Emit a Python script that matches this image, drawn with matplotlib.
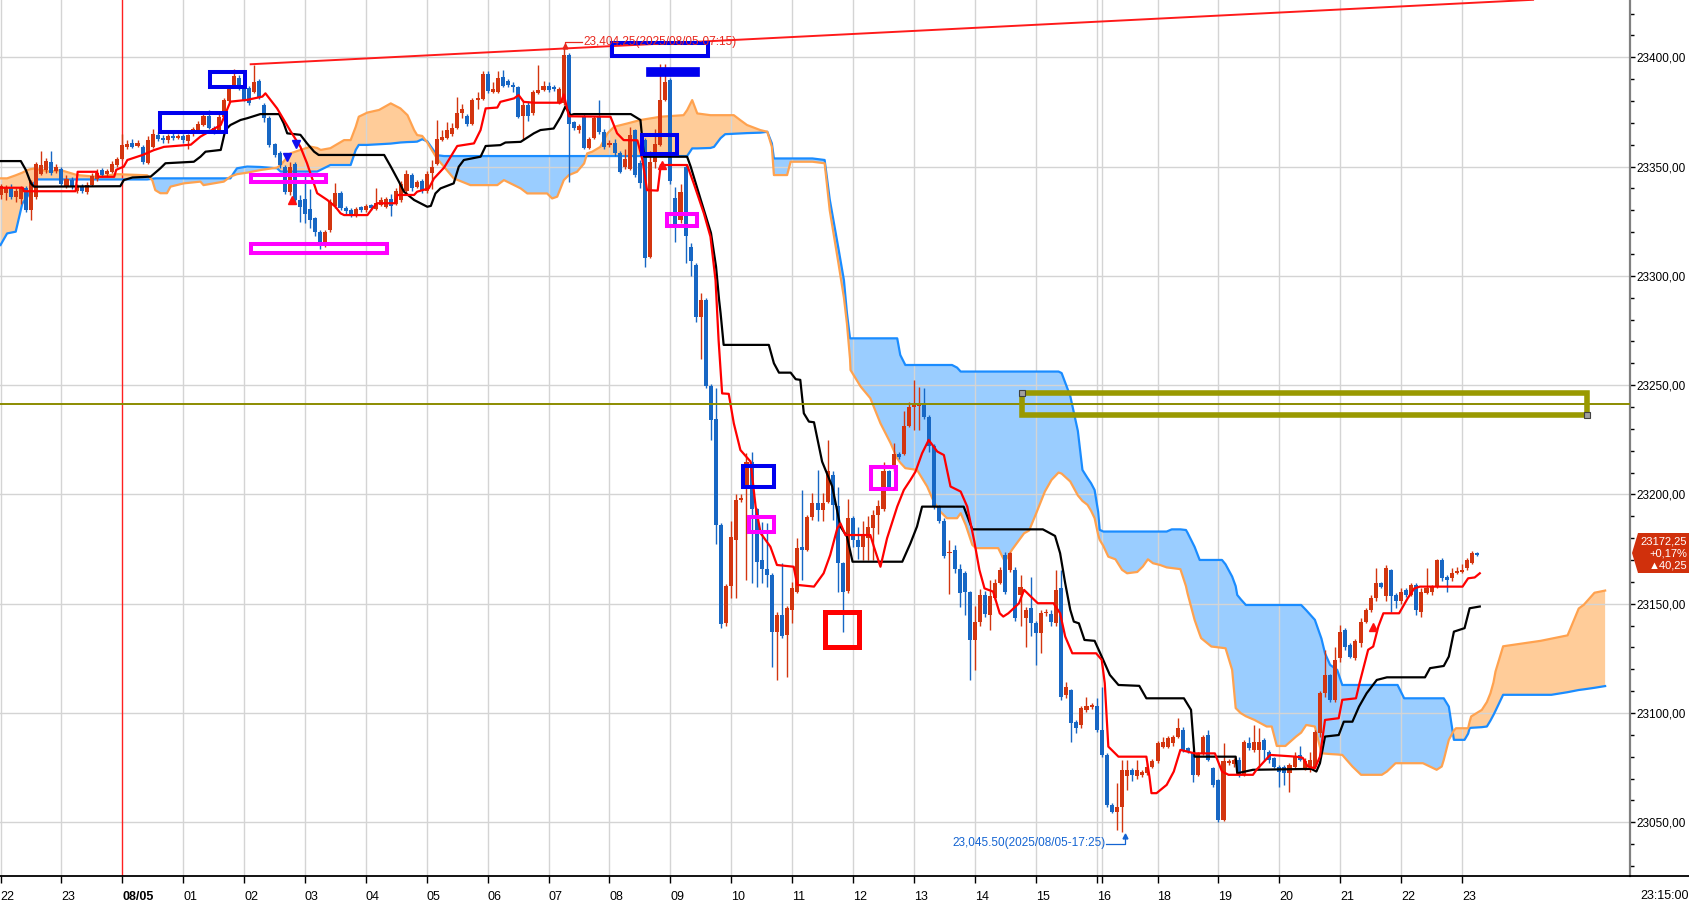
import matplotlib
matplotlib.use("Agg")
import matplotlib.pyplot as plt
import numpy as np
from matplotlib.patches import Rectangle, Polygon
from matplotlib.ticker import FuncFormatter, MultipleLocator
from matplotlib.lines import Line2D

plt.rcParams['font.family'] = ['Liberation Sans', 'DejaVu Sans']

# ---------------- 5-minute candles (bar index 0 = 22:00) ----------------
opens = [
 23337, 23338, 23340, 23336, 23335, 23340, 23330, 23336, 23346.5, 23348.5, 23352, 23348,
 23349, 23341, 23344, 23339, 23341, 23338.5, 23341.5, 23344.5, 23348.5, 23346.5, 23347.5, 23350.5,
 23353.5, 23359, 23361, 23359.5, 23359, 23351.5, 23359, 23364.5, 23363, 23362, 23364, 23363,
 23364, 23361.5, 23365, 23366.5, 23369, 23373, 23367.5, 23366.5, 23372.5, 23380, 23387.5, 23390.5,
 23386.5, 23386, 23384, 23389, 23378, 23372, 23360.5, 23356, 23350, 23338.5, 23351, 23334.5,
 23335, 23330.5, 23326.5, 23320, 23315.5, 23321, 23332, 23338, 23331, 23330, 23328, 23331.5,
 23330, 23332.5, 23330.5, 23332.5, 23331.5, 23335, 23333, 23334.5, 23339, 23346, 23340.5, 23343.5,
 23339, 23347, 23351, 23362, 23363, 23365, 23367.5, 23374.5, 23373, 23369.5, 23380.5, 23381,
 23392.5, 23384, 23384, 23391, 23389, 23387, 23386.5, 23373, 23378, 23374.5, 23383.5, 23385,
 23387, 23386.5, 23379.5, 23379, 23401, 23370.5, 23366.5, 23372.5, 23358.5, 23363, 23372.5, 23366,
 23360, 23361, 23356, 23350, 23349, 23366.5, 23351.5, 23362, 23308.5, 23352, 23360, 23380.5,
 23389.5, 23335.5, 23325.5, 23350, 23313, 23305, 23281, 23289, 23249.5, 23234.5, 23186, 23141,
 23158, 23179, 23197.5, 23203, 23215, 23193.5, 23170, 23166, 23163, 23137, 23145, 23135.5,
 23147, 23155.5, 23176, 23174.5, 23189.5, 23196, 23193, 23196.5, 23209, 23194.5, 23168.5, 23156,
 23189, 23179, 23176, 23180, 23184.5, 23190.5, 23193.5, 23210.5, 23213.5, 23218.5, 23218.5, 23231.5,
 23240, 23240.5, 23241, 23235.5, 23222, 23194.5, 23188, 23173, 23174.5, 23166, 23164, 23155.5,
 23133.5, 23141.5, 23154, 23145, 23152.5, 23159.5, 23172.3, 23165.5, 23165.5, 23153.8, 23143.3, 23147.9,
 23141, 23136.5, 23145.6, 23145.3, 23141, 23157, 23108, 23110.5, 23096, 23094.5, 23101.5, 23102.5,
 23103, 23092.3, 23080.8, 23058, 23054.5, 23057, 23071, 23074, 23071, 23071.7, 23072.5, 23075.5,
 23077.8, 23084.6, 23084.6, 23086.1, 23089.2, 23092.3, 23083.8, 23082.3, 23071.6, 23081.5, 23089.9, 23074.7,
 23069.4, 23051, 23077.1, 23076.5, 23078.5, 23071.7, 23086.1, 23083.1, 23083.1, 23087.7, 23082.3, 23079.3,
 23075.5, 23075.5, 23072.4, 23075.5, 23080.8, 23074.7, 23075.5, 23075.5, 23090.8, 23109, 23117.4, 23106,
 23125, 23138, 23131.1, 23125, 23131.9, 23141.8, 23147.2, 23152.5, 23159.4, 23153.3, 23165.4, 23154,
 23151, 23156.3, 23154, 23158.6, 23146.4, 23155, 23155.5, 23157.8, 23170, 23162.4, 23161.6, 23164.2,
 23164.5, 23166.2, 23168.5, 23173]
highs = [
 23342, 23341.5, 23342, 23340, 23341, 23341, 23344, 23352, 23357, 23354, 23357, 23351,
 23350, 23346, 23345, 23342, 23342, 23343, 23347, 23349, 23349.5, 23349, 23352.5, 23354.5,
 23365, 23362, 23362.5, 23362, 23360, 23364, 23367, 23366, 23364.5, 23365, 23365.5, 23365,
 23365, 23365, 23368, 23371, 23374, 23376, 23368.5, 23374, 23381.5, 23387, 23394.5, 23392,
 23387.5, 23387, 23396.5, 23390, 23379, 23373, 23361, 23357, 23350.5, 23352, 23352, 23337,
 23345.5, 23339.5, 23327, 23321, 23321, 23335, 23342.5, 23339, 23332, 23331, 23331.5, 23332,
 23333, 23333, 23340, 23336, 23336, 23337.5, 23340, 23343.5, 23348.5, 23347, 23344, 23344.5,
 23348, 23353, 23371.3, 23366.5, 23370.5, 23370, 23382, 23378.5, 23374, 23381.5, 23384, 23393.5,
 23393.5, 23388.5, 23393.5, 23394, 23390, 23388.5, 23387, 23380, 23380, 23385, 23396.5, 23389,
 23388.5, 23387.5, 23386.5, 23404.25, 23402, 23371, 23369.5, 23374, 23363.5, 23373, 23380.5, 23367,
 23362, 23362.5, 23357, 23358, 23368, 23367, 23353, 23363, 23357, 23367, 23397, 23397,
 23390.5, 23340.5, 23342, 23351, 23315, 23306, 23292, 23290, 23250.5, 23248.5, 23187, 23159,
 23188, 23200, 23200, 23219, 23219.5, 23194, 23187.5, 23187, 23164, 23146, 23168.5, 23149,
 23160, 23180, 23202, 23190.5, 23200.5, 23211, 23200.5, 23225, 23210.5, 23203.5, 23169, 23198,
 23190, 23185, 23188, 23190, 23193, 23197.5, 23215, 23211, 23223.5, 23219.5, 23238, 23242.5,
 23252.5, 23249, 23248.5, 23236.5, 23223, 23195, 23189, 23179, 23177, 23168, 23165, 23156,
 23149, 23156.5, 23156, 23161, 23161.5, 23167, 23173.8, 23173.8, 23167, 23163, 23148.5, 23162.4,
 23142, 23147.2, 23147.5, 23147, 23165.5, 23165.5, 23114, 23111, 23097, 23103, 23107.5, 23104.5,
 23106.7, 23112, 23081.5, 23059, 23067.8, 23078.5, 23078.5, 23075, 23078.5, 23074, 23077, 23079,
 23087, 23089.2, 23089.5, 23090, 23097.6, 23093.5, 23084.5, 23083, 23082.3, 23090, 23092.3, 23075.5,
 23070, 23086.1, 23079, 23079.5, 23080, 23087.7, 23089.2, 23094.5, 23093, 23088.4, 23083, 23080,
 23076, 23076.3, 23077, 23082, 23085, 23079.3, 23082, 23092.3, 23110, 23128.9, 23118, 23130,
 23140.3, 23138.8, 23132, 23134, 23143.3, 23148, 23154, 23166.2, 23160, 23167.7, 23166, 23155,
 23157, 23157, 23159.5, 23159.5, 23157, 23166.2, 23158.5, 23170.5, 23171, 23163, 23166.2, 23167,
 23168, 23171, 23174, 23173.5]
lows = [
 23335, 23334.5, 23335, 23334, 23333, 23329, 23325.5, 23335, 23346, 23347, 23346, 23347,
 23341, 23340, 23339.5, 23338, 23338, 23337.5, 23341, 23343.5, 23345, 23345.5, 23347, 23350,
 23353, 23358, 23358.5, 23359, 23351, 23351, 23358.5, 23361.5, 23361, 23361, 23362, 23362.5,
 23361, 23358, 23364, 23366, 23368.5, 23367, 23365, 23366, 23372, 23379.5, 23387, 23385,
 23380, 23378, 23383.5, 23381, 23370.5, 23359, 23354.5, 23349.5, 23337.5, 23337, 23333, 23324.5,
 23324, 23322, 23318, 23312.5, 23313, 23320, 23331, 23330, 23328.5, 23327, 23327, 23329,
 23329, 23330, 23330, 23332, 23331, 23327.5, 23332.5, 23334, 23338, 23339, 23340, 23338,
 23338, 23339.5, 23350.5, 23361.5, 23362.5, 23364, 23367, 23372, 23368.5, 23369, 23376.5, 23380.5,
 23383.5, 23383.5, 23383.5, 23386.5, 23386.5, 23384, 23372, 23362, 23371, 23373.5, 23383, 23384.5,
 23384, 23384.5, 23378.5, 23378, 23343, 23366.5, 23365.5, 23358, 23358, 23362.5, 23365, 23358,
 23359, 23355, 23347, 23349, 23348.5, 23345, 23340, 23304, 23308, 23349.5, 23359.5, 23380,
 23342, 23315.5, 23324, 23306, 23300, 23279, 23262, 23248.5, 23225, 23177.5, 23139, 23140,
 23152.5, 23152.5, 23196.5, 23161, 23159.5, 23157.5, 23159.5, 23157.5, 23121, 23115, 23134.5, 23116.5,
 23141, 23155, 23161, 23174, 23188.5, 23188, 23188, 23196, 23188.5, 23155.5, 23137.2, 23155,
 23176, 23170.5, 23170, 23170, 23170, 23182, 23192.5, 23202.5, 23210.5, 23216, 23218, 23231,
 23229.5, 23229.5, 23234.5, 23219.5, 23193.5, 23187, 23171, 23154.5, 23164, 23148.5, 23145, 23115,
 23119.7, 23140, 23144, 23138, 23151.5, 23159, 23154.5, 23164.5, 23142, 23140, 23130.4, 23135,
 23122, 23127.3, 23144.5, 23140, 23140, 23106, 23107, 23086.9, 23091, 23093, 23100.5, 23102,
 23091.5, 23080, 23057, 23054, 23046.5, 23045.5, 23064.8, 23069, 23070, 23070.5, 23071.5, 23075,
 23077, 23083.8, 23083.8, 23085, 23088.4, 23082, 23081.5, 23068.6, 23071, 23080.8, 23077.8, 23066.3,
 23050.2, 23050.5, 23076.3, 23075.5, 23070.9, 23071, 23083, 23082.3, 23075, 23078, 23077, 23074.7,
 23066, 23067, 23064, 23074.7, 23077.8, 23074, 23073.2, 23075, 23089, 23107.5, 23105, 23105,
 23123.5, 23129, 23125, 23124, 23130, 23141, 23146.4, 23151, 23157, 23151, 23146, 23148,
 23150, 23153, 23153.5, 23145, 23144, 23154.5, 23154, 23157, 23160.5, 23155.5, 23160.5, 23163.5,
 23164, 23165.5, 23168, 23172]
closes = [
 23341, 23340.5, 23336, 23339, 23340, 23330, 23343, 23351, 23350.5, 23352.5, 23347, 23350,
 23342, 23344.5, 23340.5, 23341, 23339, 23341.5, 23345.5, 23347, 23346, 23348, 23351, 23353.5,
 23360, 23360.5, 23359, 23361, 23352, 23362, 23365, 23362.5, 23362, 23364, 23363, 23364,
 23362, 23364.5, 23367, 23369.5, 23373, 23367.5, 23366.5, 23372.5, 23380.5, 23386, 23391.5, 23386,
 23380.5, 23379, 23388.5, 23382, 23372, 23360, 23355.5, 23350.5, 23338.5, 23350, 23334.5, 23331.5,
 23328.5, 23325.5, 23320, 23315.5, 23320, 23334, 23338, 23331, 23329.5, 23328, 23330.5, 23330,
 23332, 23331, 23333.5, 23334.5, 23335, 23332, 23339, 23342, 23346.5, 23340, 23343, 23339,
 23346.5, 23350, 23362.5, 23363.5, 23366.5, 23367.5, 23374.5, 23376.5, 23369.5, 23380.5, 23381.5, 23392.5,
 23384.5, 23385.5, 23390.5, 23387, 23387.5, 23386.5, 23372.5, 23378, 23373, 23384, 23385, 23387,
 23385, 23385.5, 23385.5, 23401, 23369.5, 23367.5, 23368.5, 23358.5, 23362.5, 23372, 23366, 23359,
 23361, 23356, 23347.5, 23353.5, 23364.5, 23346, 23342.5, 23308, 23352, 23360.5, 23380.5, 23388.5,
 23343.5, 23322.5, 23338.5, 23318, 23307, 23281, 23289, 23249.5, 23234, 23186, 23140.5, 23158,
 23180.5, 23197.5, 23198.5, 23215, 23193.5, 23169, 23166, 23163, 23137, 23145, 23135, 23148,
 23157, 23175.5, 23174.5, 23189.5, 23196, 23193, 23196, 23210.5, 23195, 23168.5, 23155.5, 23189,
 23179, 23176, 23181.5, 23185, 23190.5, 23194.5, 23210.5, 23203.5, 23218.5, 23217, 23231.5, 23240,
 23240.5, 23241, 23235.5, 23222, 23194.5, 23188, 23172, 23173.5, 23166, 23155, 23155.5, 23133.5,
 23141.5, 23154, 23145.5, 23153.5, 23159.5, 23165.5, 23155.5, 23173, 23143.3, 23157.8, 23147, 23141,
 23136.5, 23145.6, 23146.4, 23141.8, 23156.3, 23107.5, 23112, 23095.3, 23093, 23102.2, 23103, 23103.5,
 23092.3, 23080.8, 23058, 23054.9, 23057, 23074, 23074, 23071.7, 23074, 23073.2, 23075.5, 23077.8,
 23086.1, 23086.9, 23088.4, 23089.2, 23093, 23083.1, 23082.3, 23071.7, 23081.5, 23089.2, 23078.5, 23067.1,
 23051, 23077.8, 23077.8, 23078.5, 23071.7, 23086.9, 23083.8, 23086.9, 23086.9, 23083.1, 23078.5, 23075.5,
 23073.2, 23072.4, 23076.2, 23080, 23078.5, 23077.8, 23078.5, 23091.5, 23109, 23117.4, 23106, 23124.3,
 23137.2, 23130.4, 23125.8, 23132.7, 23141.8, 23147.2, 23152.5, 23159.4, 23157.8, 23166.2, 23153.3, 23151,
 23155.5, 23154, 23158.6, 23147.2, 23155.5, 23157, 23157.8, 23170, 23161.6, 23160.9, 23163.9, 23165,
 23165.2, 23170, 23173, 23172.25]

# ---------------- Ichimoku lines ----------------
tenkan_x = [0, 4.4, 4.6, 14.8, 15.2, 19.0, 19.3, 22.4, 22.8, 24.3,
            25.0, 28.0, 30.2, 32.2, 37.5, 39.4, 43.4, 45.3, 48.6, 51.6,
            52.2, 54.5, 57.2, 59.1, 60.4, 61.4, 62.4, 64.4, 66.0, 67.0,
            67.7, 72.3, 73.3, 74.2, 77.8, 78.2, 81.5, 82.1, 84.4, 85.4,
            87.4, 90.0, 93.3, 94.6, 95.6, 97.9, 98.5, 101.2, 102.1, 103.1,
            105.1, 110.4, 111.0, 112.0, 120.2, 121.5, 122.8, 125.5, 126.5, 127.4,
            129.5, 130.1, 135.3, 136.6, 138.6, 139.9, 140.9, 141.5, 142.2, 143.5,
            144.5, 145.8, 147.8, 148.8, 149.8, 151.7, 153.0, 156.3, 157.0, 160.3,
            162.2, 163.5, 164.9, 165.5, 166.5, 171.4, 172.1, 173.4, 174.7, 176.7,
            178.0, 179.3, 180.3, 181.6, 182.9, 184.6, 185.9, 187.2, 189.2, 190.5,
            191.9, 192.9, 193.9, 195.6, 196.9, 197.6, 198.6, 200.7, 201.7, 202.7,
            204.4, 207.5, 208.8, 209.8, 211.2, 215.9, 217.0, 217.6, 218.3, 220.3,
            225.8, 226.4, 226.8, 227.8, 229.8, 231.2, 232.5, 235.3, 239.3, 240.7,
            242.0, 246.8, 247.5, 250.2, 255.3, 256.6, 257.6, 259.0, 260.0, 261.0,
            263.7, 264.4, 267.1, 267.8, 269.5, 270.5, 271.5, 272.5, 275.6, 277.3,
            278.6, 279.7, 288.1, 289.2, 290.5, 291.5]
tenkan_y = [23340.3, 23340.3, 23338.7, 23338.7, 23347.6, 23347.6, 23345.3, 23345.3, 23348.5, 23350.0,
            23353.0, 23355.3, 23357.5, 23359.0, 23360.0, 23363.7, 23369.0, 23379.7, 23380.5, 23382.0,
            23383.5, 23376.6, 23366.0, 23359.0, 23351.5, 23344.6, 23337.8, 23334.7, 23331.6, 23328.6,
            23327.8, 23327.8, 23330.9, 23333.2, 23333.2, 23337.0, 23337.0, 23338.5, 23340.0, 23344.5,
            23349.5, 23359.4, 23360.6, 23366.7, 23376.6, 23377.0, 23379.6, 23381.2, 23382.7, 23379.6,
            23379.2, 23379.2, 23383.0, 23373.0, 23372.8, 23365.2, 23362.1, 23362.0, 23353.0, 23339.2,
            23339.0, 23350.7, 23350.7, 23342.3, 23328.6, 23317.9, 23298.0, 23270.6, 23246.2, 23246.0,
            23232.5, 23220.3, 23215.0, 23194.4, 23182.2, 23176.1, 23167.7, 23166.9, 23158.6, 23157.8,
            23163.9, 23172.3, 23184.5, 23186.8, 23181.4, 23181.4, 23176.1, 23166.9, 23179.9, 23194.4,
            23202.0, 23206.6, 23210.4, 23218.8, 23224.9, 23219.6, 23218.0, 23203.6, 23201.3, 23194.4,
            23178.4, 23165.4, 23157.0, 23155.5, 23145.6, 23144.1, 23145.6, 23150.2, 23156.3, 23154.0,
            23150.2, 23150.2, 23145.6, 23135.0, 23127.3, 23127.3, 23124.3, 23113.6, 23084.6, 23080.0,
            23080.0, 23070.9, 23063.3, 23063.3, 23067.1, 23073.2, 23083.1, 23081.5, 23081.5, 23073.2,
            23071.7, 23071.7, 23074.0, 23080.8, 23080.0, 23079.5, 23075.5, 23074.7, 23080.0, 23096.8,
            23097.6, 23106.0, 23106.7, 23113.6, 23128.9, 23130.4, 23139.5, 23145.6, 23145.6, 23152.5,
            23157.0, 23157.8, 23157.8, 23161.6, 23162.0, 23163.9]

kijun_x = [0, 4.0, 5.0, 6.0, 6.6, 23.6, 24.3, 26.0, 28.0, 29.6,
           31.5, 32.5, 38.1, 39.4, 40.4, 43.4, 44.3, 45.3, 47.3, 48.6,
           51.2, 54.9, 55.8, 56.5, 59.1, 60.4, 61.8, 62.7, 75.6, 76.9,
           78.5, 79.5, 81.5, 84.1, 84.8, 85.7, 86.7, 89.3, 90.3, 91.3,
           94.6, 95.6, 98.5, 99.5, 102.5, 105.1, 106.4, 109.0, 110.4, 111.3,
           112.3, 113.0, 124.2, 126.1, 126.8, 135.3, 136.0, 138.0, 140.0, 141.0,
           141.6, 141.9, 142.5, 151.4, 152.4, 153.4, 155.7, 156.7, 157.6, 158.3,
           159.3, 160.3, 161.9, 163.9, 165.5, 166.8, 167.9, 177.7, 179.3, 180.6,
           181.6, 189.8, 191.5, 205.4, 207.8, 208.8, 209.8, 210.8, 211.5, 212.5,
           213.6, 215.6, 217.0, 218.6, 220.3, 224.4, 225.8, 233.2, 234.6, 235.3,
           243.4, 243.7, 246.8, 258.3, 259.3, 260.0, 261.0, 263.7, 264.7, 266.4,
           267.7, 269.2, 271.2, 273.2, 280.7, 281.7, 284.4, 285.4, 286.4, 288.5,
           289.5, 291.5]
kijun_y = [23352.5, 23352.5, 23348.4, 23342.3, 23340.8, 23341.0, 23343.8, 23345.0, 23345.2, 23345.4,
           23349.2, 23351.5, 23352.2, 23354.5, 23356.8, 23357.6, 23366.7, 23369.0, 23371.3, 23372.1,
           23374.0, 23374.0, 23369.8, 23365.2, 23364.5, 23360.6, 23356.8, 23355.3, 23355.3, 23350.0,
           23343.1, 23338.5, 23334.7, 23331.6, 23332.0, 23337.7, 23340.0, 23342.3, 23349.9, 23353.0,
           23354.5, 23359.4, 23359.8, 23361.0, 23361.3, 23365.2, 23366.7, 23367.4, 23372.8, 23377.4,
           23373.5, 23374.0, 23374.0, 23371.3, 23354.5, 23354.5, 23350.0, 23334.7, 23319.6, 23304.2,
           23289.0, 23282.8, 23268.4, 23268.4, 23260.0, 23255.7, 23255.7, 23252.7, 23252.4, 23237.1,
           23233.3, 23233.0, 23215.0, 23203.6, 23185.3, 23180.7, 23169.2, 23169.2, 23177.6, 23185.3,
           23194.4, 23194.4, 23184.0, 23184.0, 23181.0, 23173.1, 23159.4, 23147.2, 23141.8, 23141.0,
           23133.4, 23133.0, 23125.8, 23117.4, 23112.8, 23112.4, 23106.7, 23106.7, 23101.4, 23080.0,
           23080.0, 23072.4, 23074.0, 23074.4, 23073.2, 23077.0, 23089.2, 23089.9, 23096.0, 23096.0,
           23102.9, 23109.0, 23115.1, 23116.3, 23116.3, 23120.5, 23121.5, 23125.8, 23137.2, 23138.8,
           23147.9, 23148.7]

cloud_x = [0, 1.3, 3.0, 4.3, 5.3, 5.9, 6.6, 7.2, 9.9, 11.8,
           15.1, 19.0, 23.0, 28.9, 29.9, 30.5, 31.5, 32.8, 33.5, 36.1,
           39.4, 40.0, 44.0, 45.3, 46.0, 46.6, 48.6, 51.2, 54.5, 55.2,
           57.1, 59.1, 61.1, 62.4, 63.1, 65.0, 67.7, 69.0, 70.0, 70.6,
           72.3, 74.6, 76.9, 78.8, 80.2, 81.5, 82.1, 83.1, 84.1, 86.0,
           87.4, 89.3, 92.6, 97.9, 99.2, 102.5, 103.8, 107.7, 108.7, 109.7,
           111.0, 112.0, 113.6, 115.0, 115.6, 116.6, 118.2, 119.6, 120.9, 123.5,
           126.1, 130.1, 134.6, 135.3, 136.3, 137.3, 139.9, 140.6, 141.9, 142.8,
           144.5, 145.8, 147.1, 149.7, 151.1, 152.0, 152.4, 155.0, 155.7, 160.0,
           162.4, 163.4, 165.1, 166.2, 166.8, 167.4, 167.5, 169.5, 171.4, 173.4,
           175.4, 176.7, 177.3, 178.3, 180.6, 182.6, 183.9, 185.2, 186.5, 187.5,
           188.5, 189.2, 190.2, 191.5, 192.2, 196.6, 197.9, 199.3, 201.7, 202.7,
           204.1, 205.8, 207.1, 208.5, 209.1, 210.8, 212.3, 213.2, 214.2, 214.9,
           215.6, 216.3, 216.6, 217.3, 218.3, 219.7, 221.0, 222.0, 224.0, 225.1,
           226.1, 227.1, 228.5, 229.8, 230.8, 232.5, 233.6, 233.9, 235.3, 236.3,
           236.6, 238.6, 240.7, 241.4, 242.7, 243.4, 243.7, 244.4, 245.4, 247.1,
           249.5, 250.5, 251.5, 253.2, 255.3, 256.3, 257.3, 259.0, 260.3, 261.0,
           262.0, 263.4, 264.4, 266.4, 268.1, 272.2, 273.2, 274.9, 275.3, 276.6,
           280.3, 283.0, 284.0, 284.4, 285.4, 286.4, 286.8, 288.5, 289.2, 289.5,
           289.8, 291.9, 292.9, 293.6, 294.2, 294.6, 296.1, 303.5, 305.6, 308.8,
           311.0, 312.0, 314.1, 316.2]
span_blue = [23314.1, 23319.4, 23320.2, 23333.1, 23336.2, 23339.2, 23342.5, 23344.1, 23344.1, 23344.1,
             23344.1, 23344.1, 23344.1, 23344.1, 23344.4, 23344.6, 23344.6, 23344.6, 23344.6, 23344.6,
             23344.6, 23344.6, 23344.6, 23344.6, 23347.2, 23349.2, 23350.0, 23349.8, 23349.2, 23347.7,
             23347.7, 23347.7, 23347.7, 23347.7, 23348.5, 23350.7, 23350.7, 23350.7, 23357.6, 23359.9,
             23359.9, 23360.2, 23360.5, 23361.0, 23361.2, 23361.3, 23361.4, 23362.5, 23361.5, 23355.2,
             23354.8, 23354.8, 23354.8, 23354.8, 23354.8, 23354.8, 23354.8, 23354.8, 23354.8, 23354.8,
             23354.8, 23354.8, 23354.8, 23354.8, 23354.8, 23354.8, 23354.8, 23354.8, 23354.8, 23354.8,
             23354.8, 23354.8, 23354.8, 23354.8, 23358.3, 23358.3, 23358.5, 23359.0, 23363.0, 23364.8,
             23365.0, 23365.2, 23365.3, 23365.5, 23365.9, 23360.6, 23353.7, 23353.7, 23353.7, 23353.7,
             23353.0, 23335.0, 23312.8, 23298.0, 23282.8, 23271.4, 23271.4, 23271.4, 23271.4, 23271.4,
             23271.4, 23271.4, 23263.8, 23259.2, 23259.2, 23259.2, 23259.2, 23259.2, 23259.2, 23259.2,
             23258.0, 23256.2, 23256.2, 23256.2, 23256.2, 23256.2, 23256.2, 23256.2, 23256.2, 23256.2,
             23256.2, 23256.2, 23256.2, 23256.2, 23255.5, 23245.0, 23229.0, 23211.2, 23207.5, 23205.1,
             23202.0, 23192.0, 23183.8, 23183.0, 23183.0, 23183.0, 23183.0, 23183.0, 23183.0, 23183.0,
             23183.0, 23183.0, 23183.0, 23183.0, 23184.0, 23184.0, 23183.7, 23182.5, 23176.0, 23170.0,
             23170.0, 23170.0, 23170.0, 23168.0, 23162.4, 23158.0, 23154.0, 23152.0, 23149.4, 23149.4,
             23149.4, 23149.4, 23149.4, 23149.4, 23149.4, 23149.4, 23147.0, 23142.6, 23134.0, 23127.3,
             23122.0, 23119.7, 23112.8, 23112.8, 23112.8, 23112.8, 23112.8, 23112.8, 23112.8, 23106.7,
             23106.7, 23106.7, 23106.7, 23106.7, 23102.9, 23087.7, 23087.7, 23087.7, 23090.5, 23093.0,
             23093.2, 23093.5, 23093.8, 23096.5, 23099.1, 23101.0, 23108.3, 23108.3, 23108.3, 23109.5,
             23110.5, 23110.8, 23111.5, 23112.3]
span_orange = [23344.6, 23344.6, 23346.0, 23347.2, 23348.4, 23348.8, 23349.1, 23348.8, 23347.6, 23348.4,
               23346.1, 23345.3, 23346.5, 23346.0, 23343.8, 23339.2, 23337.8, 23337.8, 23340.8, 23342.3,
               23343.1, 23341.5, 23343.1, 23345.4, 23346.0, 23346.5, 23347.2, 23348.4, 23349.5, 23350.7,
               23356.0, 23357.6, 23359.1, 23358.5, 23357.6, 23358.4, 23362.1, 23362.1, 23368.2, 23372.8,
               23374.7, 23375.9, 23378.9, 23376.6, 23373.5, 23366.7, 23364.4, 23364.0, 23361.0, 23353.7,
               23349.9, 23344.6, 23341.5, 23341.5, 23343.8, 23340.0, 23337.7, 23337.7, 23335.4, 23336.2,
               23343.8, 23346.1, 23347.6, 23351.4, 23356.0, 23356.8, 23359.0, 23365.2, 23368.2, 23369.7,
               23371.3, 23372.8, 23373.5, 23375.8, 23380.4, 23374.3, 23373.5, 23373.5, 23373.5, 23373.5,
               23373.5, 23371.2, 23369.0, 23366.7, 23365.9, 23359.0, 23346.1, 23346.1, 23352.2, 23352.2,
               23351.5, 23330.0, 23306.0, 23290.0, 23278.0, 23262.0, 23256.9, 23249.3, 23244.0, 23232.5,
               23223.4, 23216.5, 23214.5, 23212.0, 23211.2, 23203.6, 23196.7, 23192.1, 23189.1, 23189.1,
               23189.1, 23191.4, 23186.0, 23176.9, 23175.4, 23175.4, 23169.3, 23174.6, 23182.2, 23183.5,
               23191.4, 23201.3, 23206.6, 23210.0, 23209.5, 23205.9, 23199.5, 23197.0, 23195.2, 23192.5,
               23189.1, 23181.5, 23179.2, 23176.5, 23171.5, 23170.3, 23165.5, 23163.9, 23164.5, 23167.0,
               23170.3, 23168.5, 23167.7, 23166.6, 23166.3, 23165.8, 23158.0, 23154.8, 23142.6, 23136.0,
               23134.2, 23130.4, 23129.8, 23129.6, 23119.7, 23102.2, 23101.5, 23099.9, 23098.5, 23096.8,
               23093.8, 23093.8, 23084.9, 23084.9, 23089.2, 23091.0, 23094.5, 23093.8, 23081.6, 23081.4,
               23081.2, 23081.0, 23080.8, 23075.5, 23071.7, 23071.7, 23073.2, 23077.0, 23077.0, 23077.0,
               23077.0, 23074.0, 23075.5, 23078.5, 23087.7, 23092.0, 23093.0, 23093.0, 23093.0, 23096.0,
               23098.4, 23101.4, 23105.0, 23109.0, 23114.0, 23119.0, 23130.5, 23133.0, 23134.0, 23135.5,
               23147.8, 23149.5, 23155.0, 23156.0]

# x-axis hour ticks (bar index) and labels
tick_pos = [0, 12, 24, 36, 48, 60, 72, 84, 96, 108, 120, 132, 144, 156, 168, 180,
            192, 204, 216, 217, 228, 240, 252, 264, 276, 288]
tick_lab = ['22', '23', '08/05', '01', '02', '03', '04', '05', '06', '07', '08', '09',
            '10', '11', '12', '13', '14', '15', '16', '', '18', '19', '20', '21', '22', '23']

# ---------------- figure ----------------
W, H = 1689, 906
AX_R, AX_B = 1630, 876
fig = plt.figure(figsize=(W / 100, H / 100), dpi=100)
fig.patch.set_facecolor('white')
ax = fig.add_axes([0, (H - AX_B) / H, AX_R / W, AX_B / H])
XMIN, XMAX = -0.1, 321.1
YMIN, YMAX = 23025.4, 23426.2
ax.set_xlim(XMIN, XMAX)
ax.set_ylim(YMIN, YMAX)

RED_C = '#D3350F'
BLUE_C = '#1767C4'
FILL_O = '#FFCC99'
FILL_B = '#9ACDFF'
LINE_O = '#FFA24F'
LINE_B = '#1A8CFF'

# cloud
cx = np.array(cloud_x)
sb = np.array(span_blue)
so = np.array(span_orange)
ax.fill_between(cx, sb, so, where=sb >= so, interpolate=True, color=FILL_B, lw=0, zorder=1)
ax.fill_between(cx, sb, so, where=so > sb, interpolate=True, color=FILL_O, lw=0, zorder=1)

# grid
for p in tick_pos:
    if p == 24:
        continue
    ax.axvline(p, color='#D4D4D4', lw=1.0, zorder=1.5)
for lv in range(23050, 23401, 50):
    ax.axhline(lv, color='#D4D4D4', lw=1.0, zorder=1.5)
ax.axvline(24, color='#FF2020', lw=1.0, zorder=1.6)

ax.plot(cx, sb, color=LINE_B, lw=1.6, zorder=2)
ax.plot(cx, so, color=LINE_O, lw=1.6, zorder=2)

# candles
o = np.array(opens); h = np.array(highs); l = np.array(lows); c = np.array(closes)
idx = np.arange(len(c))
cols = np.where(c >= o, RED_C, BLUE_C)
ax.vlines(idx, l, h, colors=cols, lw=1.0, zorder=3)
bot = np.minimum(o, c)
hgt = np.maximum(np.abs(c - o), 0.7)
ax.bar(idx, hgt, bottom=bot, width=0.8, color=cols, lw=0, zorder=3)

# ichimoku conversion / base lines
ax.plot(kijun_x, kijun_y, color='black', lw=1.6, zorder=4)
ax.plot(tenkan_x, tenkan_y, color='#FF0000', lw=1.6, zorder=4.5)

# trend line
ax.plot([49.3, 302.0], [23396.8, 23426.3], color='#FF1A1A', lw=1.4, zorder=5)

# horizontal olive line
ax.axhline(23241.3, color='#8C8C00', lw=1.4, zorder=5)

def rect(x0, x1, y0, y1, color, lw, fill=False):
    r = Rectangle((x0, y0), x1 - x0, y1 - y0, fill=fill, facecolor=color if fill else 'none',
                  edgecolor=color, lw=lw, zorder=6, joinstyle='miter')
    ax.add_patch(r)

BL = '#0000EE'
MG = '#FF00FF'
rect(41.24, 48.22, 23386.2, 23393.2, BL, 2.9)
rect(31.39, 44.39, 23365.8, 23374.6, BL, 2.9)
rect(120.4, 139.5, 23400.4, 23406.6, BL, 2.9)
rect(127.1, 137.7, 23391.5, 23395.7, BL, 0.5, fill=True)
rect(126.4, 133.4, 23355.7, 23364.5, BL, 2.9)
rect(146.4, 152.5, 23203.4, 23213.0, BL, 2.9)
rect(49.3, 64.2, 23342.8, 23346.25, MG, 2.9)
rect(49.3, 76.1, 23310.3, 23314.4, MG, 2.9)
rect(131.4, 137.3, 23322.6, 23328.1, MG, 2.9)
rect(147.4, 152.5, 23182.7, 23189.7, MG, 2.9)
rect(171.5, 176.5, 23202.6, 23212.6, MG, 2.9)
rect(162.5, 169.2, 23130.0, 23146.3, '#FF0000', 3.6)
rect(201.2, 312.6, 23236.5, 23246.3, '#999900', 4.0)
ax.plot([201.2, 312.6], [23246.3, 23236.5], ls='none', marker='s', ms=4,
        mfc='#A0A0A0', mec='#404040', mew=0.8, zorder=7)

# signal arrows
ax.plot([56.4, 58.3], [23354.3, 23360.3], ls='none', marker='v', ms=6, color='#1010F0', zorder=6)
ax.plot([57.4, 130.4, 270.5], [23334.7, 23350.7, 23139.2], ls='none', marker='^', ms=6,
        color='#FF1010', zorder=6)

# high / low annotations
HI_C = '#E8281E'
ax.plot([111.33, 111.33, 114.6], [23404.9, 23407.2, 23407.2], color=HI_C, lw=0.9, zorder=6)
ax.plot([111.33], [23405.3], marker='^', ms=3.5, color=HI_C, zorder=6)
ax.text(114.8, 23407.2, '23,404.25(2025/08/05-07:15)', color=HI_C, fontsize=8.5,
        ha='left', va='center', zorder=7)
LO_C = '#1464D2'
ax.plot([217.9, 221.5, 221.5], [23040.0, 23040.0, 23043.6], color=LO_C, lw=0.9, zorder=6)
ax.plot([221.5], [23043.6], marker='^', ms=3.5, color=LO_C, zorder=6)
ax.text(217.7, 23040.4, '23,045.50(2025/08/05-17:25)', color=LO_C, fontsize=8.5,
        ha='right', va='center', zorder=7)

# axes styling
for s in ['top', 'left']:
    ax.spines[s].set_visible(False)
ax.spines['right'].set_color('#808080')
ax.spines['right'].set_linewidth(1.6)
ax.spines['bottom'].set_color('black')
ax.spines['bottom'].set_linewidth(1.3)

ax.yaxis.tick_right()
ax.yaxis.set_major_locator(MultipleLocator(50))
ax.yaxis.set_minor_locator(MultipleLocator(10))
ax.yaxis.set_major_formatter(FuncFormatter(lambda v, p: f"{v:.2f}".replace('.', ',')))
ax.tick_params(axis='y', which='major', length=3.5, width=1, direction='out', pad=1,
               labelsize=8.5, colors='black')
ax.tick_params(axis='y', which='minor', length=3, width=1, direction='out', color='black')

ax.set_xticks(tick_pos)
ax.set_xticklabels(tick_lab)
ax.tick_params(axis='x', which='major', length=5, width=1, direction='out', pad=6,
               labelsize=9, colors='black')
for t in ax.get_xticklabels():
    t.set_horizontalalignment('left')
ax.get_xticklabels()[2].set_fontweight('bold')

# bottom axis line extension on the right
fig.add_artist(Line2D([AX_R / W, 1.0], [(H - AX_B) / H, (H - AX_B) / H], color='black', lw=1.3))
fig.text(1.0, (H - 896) / H, '23:15:00', ha='right', va='center', fontsize=9)

# price tag
pts = [(1638, 533), (1689, 533), (1689, 573), (1638, 573), (1632, 553)]
poly = Polygon([(x / W, 1 - y / H) for x, y in pts], closed=True, transform=fig.transFigure,
               facecolor='#D0300C', edgecolor='none', zorder=10)
fig.add_artist(poly)
for txt, y in [('23172,25', 541), ('+0,17%', 553), ('\u25b240,25', 565)]:
    fig.text(1687 / W, 1 - y / H, txt, color='white', fontsize=8, ha='right', va='center',
             zorder=11)

fig.savefig('out.png', dpi=100, facecolor='white')
